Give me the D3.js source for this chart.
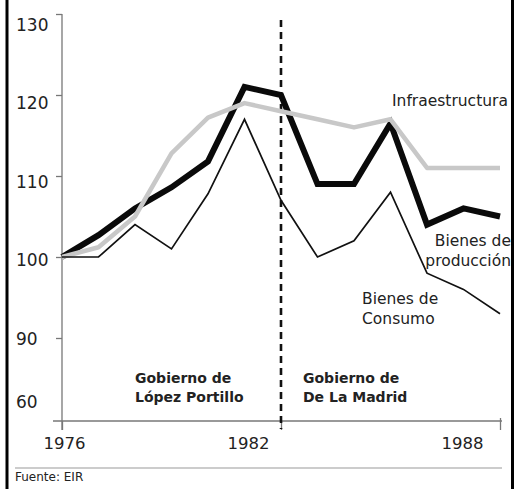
<!DOCTYPE html>
<html>
<head>
<meta charset="utf-8">
<script src="https://cdn.jsdelivr.net/npm/d3@7"></script>
<style>
  body { margin: 0; background: #fff; }
  text { font-family: "DejaVu Sans", sans-serif; fill: #222; }
</style>
</head>
<body>
<svg id="chart" width="521" height="489"></svg>
<script>
// values (index, 1976 = 100)
const years = [1976, 1977, 1978, 1979, 1980, 1981, 1982, 1983, 1984, 1985, 1986, 1987, 1988];
const produccion = [100, 102.7, 106, 108.6, 111.8, 121, 120, 109, 109, 116.5, 104, 106, 105];
const infraestructura = [100, 101.2, 105, 112.8, 117.2, 119, 118, 117, 116, 117, 111, 111, 111];
const consumo = [100, 100, 104, 101, 107.8, 117, 107, 100, 102, 108, 98, 96, 93];
const yTicks = [130, 120, 110, 100, 90, 60];
const xTicks = [1976, 1982, 1988];
const cambioGobierno = 1982;

const width = 521, height = 489;
const svg = d3.select("#chart");

const x = d3.scaleLinear().domain([1976, 1988]).range([62, 500]);
// axis is broken below 90: 60 sits just above the baseline
const y = d3.scaleLinear().domain([60, 90, 130]).range([401, 338, 14]);
// tick labels on the original drift a bit from their ticks
const yLabel = d3.scaleLinear().domain([60, 90, 130]).range([401, 338, 24]);
const xLabel = d3.scaleLinear().domain([1976, 1982, 1988]).range([64, 248, 462]);

const axisColor = "#777";

// y axis
const gy = svg.append("g")
  .attr("transform", "translate(62,0)")
  .call(d3.axisLeft(y).tickValues(yTicks).tickSizeInner(6).tickSizeOuter(0));
gy.select(".domain").attr("d", "M0,14V430").attr("stroke", axisColor).attr("stroke-width", 1.3);
gy.selectAll(".tick line").attr("stroke", axisColor).attr("stroke-width", 1.3)
  .attr("display", d => d === 60 ? "none" : null);
gy.selectAll(".tick text")
  .attr("x", -46)
  .attr("y", d => yLabel(d) - y(d))
  .attr("dy", "0.36em")
  .attr("text-anchor", "start")
  .style("font-family", "DejaVu Sans")
  .style("font-size", "17px")
  .attr("fill", "#222");

// x axis
const gx = svg.append("g")
  .attr("transform", "translate(0,421)")
  .call(d3.axisBottom(x).tickValues(xTicks).tickFormat(d3.format("d")).tickSizeInner(9).tickSizeOuter(0));
gx.select(".domain").attr("d", "M53,0H502").attr("stroke", axisColor).attr("stroke-width", 1.3);
gx.selectAll(".tick line").attr("stroke", axisColor).attr("stroke-width", 1.3)
  .attr("y1", d => d === 1988 ? -3 : 0);
gx.selectAll(".tick text")
  .attr("x", d => xLabel(d) - x(d))
  .attr("y", 28)
  .attr("dy", 0)
  .style("font-family", "DejaVu Sans")
  .style("font-size", "16.5px")
  .attr("fill", "#222");

// government change
svg.append("line")
  .attr("x1", x(cambioGobierno)).attr("x2", x(cambioGobierno))
  .attr("y1", 20).attr("y2", 429)
  .attr("stroke", "#111")
  .attr("stroke-width", 2.6)
  .attr("stroke-dasharray", "7,5");

const line = d3.line()
  .x((d, i) => x(years[i]))
  .y(d => y(d));

svg.append("path")
  .attr("d", line(produccion))
  .attr("fill", "none")
  .attr("stroke", "#0a0a0a")
  .attr("stroke-width", 6)
  .attr("stroke-linejoin", "miter");

svg.append("path")
  .attr("d", line(infraestructura))
  .attr("fill", "none")
  .attr("stroke", "#c8c8c8")
  .attr("stroke-width", 4.5)
  .attr("stroke-linejoin", "round");

svg.append("path")
  .attr("d", line(consumo))
  .attr("fill", "none")
  .attr("stroke", "#111")
  .attr("stroke-width", 1.7)
  .attr("stroke-linejoin", "miter");

// series labels
svg.append("text").attr("x", 392).attr("y", 106)
  .style("font-size", "15.5px").text("Infraestructura");

const prod = svg.append("text").attr("text-anchor", "end").style("font-size", "15.5px");
prod.append("tspan").attr("x", 511).attr("y", 246).text("Bienes de");
prod.append("tspan").attr("x", 511).attr("y", 266).text("producción");

const cons = svg.append("text").style("font-size", "15.5px");
cons.append("tspan").attr("x", 362).attr("y", 304).text("Bienes de");
cons.append("tspan").attr("x", 362).attr("y", 324).text("Consumo");

// period labels
const lp = svg.append("text").style("font-size", "14px").style("font-weight", "bold").attr("fill", "#000");
lp.append("tspan").attr("x", 135).attr("y", 383).text("Gobierno de");
lp.append("tspan").attr("x", 135).attr("y", 402).text("López Portillo");

const dm = svg.append("text").style("font-size", "14px").style("font-weight", "bold").attr("fill", "#000");
dm.append("tspan").attr("x", 303).attr("y", 383).text("Gobierno de");
dm.append("tspan").attr("x", 303).attr("y", 402).text("De La Madrid");

// source
svg.append("line")
  .attr("x1", 15).attr("x2", 502).attr("y1", 468).attr("y2", 468)
  .attr("stroke", "#999").attr("stroke-width", 1);
svg.append("text").attr("x", 15).attr("y", 481)
  .style("font-size", "12px").text("Fuente: EIR");

// side frame
svg.append("rect").attr("x", 5.5).attr("y", 0).attr("width", 3).attr("height", height).attr("fill", "#000");
svg.append("rect").attr("x", 511).attr("y", 0).attr("width", 10).attr("height", height).attr("fill", "#fff");
svg.append("rect").attr("x", 511).attr("y", 0).attr("width", 3).attr("height", height).attr("fill", "#000");
</script>
</body>
</html>
